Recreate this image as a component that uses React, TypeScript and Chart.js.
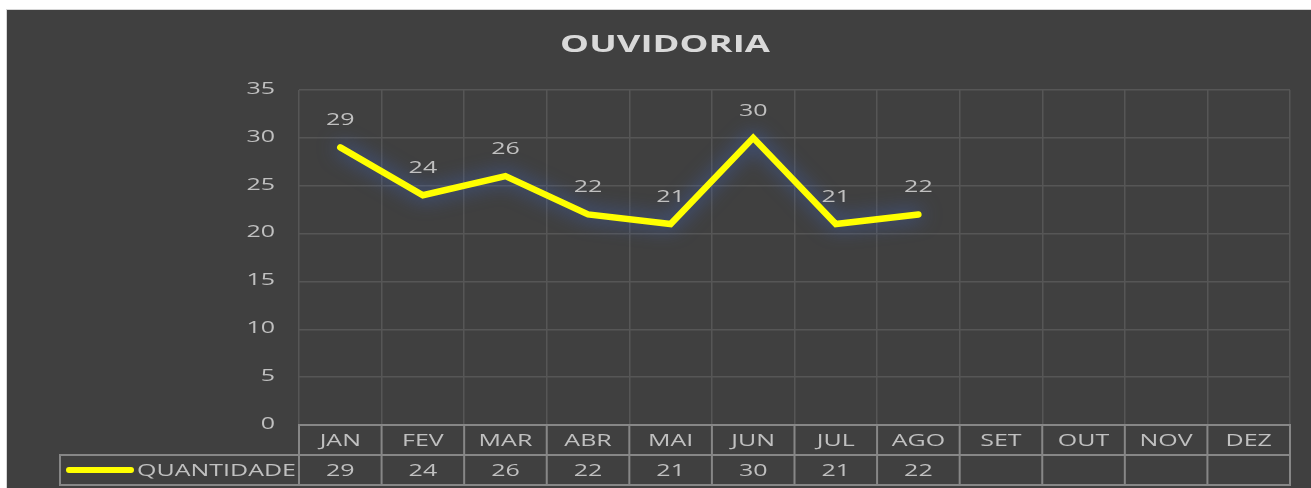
import React, { useEffect, useRef } from "react";
import { Chart, registerables } from "chart.js";

Chart.register(...registerables);

const TITLE = "OUVIDORIA";
const SERIES_NAME = "QUANTIDADE";
const MONTHS = ["JAN", "FEV", "MAR", "ABR", "MAI", "JUN", "JUL", "AGO", "SET", "OUT", "NOV", "DEZ"];
const QUANTIDADE: (number | null)[] = [29, 24, 26, 22, 21, 30, 21, 22, null, null, null, null];
const Y_TICKS = [0, 5, 10, 15, 20, 25, 30, 35];
const Y_MIN = 0;
const Y_MAX = 35;
const Y_STEP = 5;

const FONT = "'Open Sans', 'DejaVu Sans', sans-serif";
const TEXT_COLOR = "#c0c0c0";
const GRID_COLOR = "#565656";
const TABLE_BORDER = "#878787";
const LINE_COLOR = "#ffff00";
const BG = "#404040";
const SX = 1.47; // horizontal text stretch seen in the reference
const SX_TITLE = 1.52;

const W = 1304;
const H = 478;

function stretchedText(ctx: any, text: string, x: number, y: number, align: "left" | "center" | "right", sx = SX) {
  ctx.save();
  ctx.translate(x, y);
  ctx.scale(sx, 1);
  ctx.textAlign = align;
  ctx.textBaseline = "middle";
  ctx.fillText(text, 0, 0);
  ctx.restore();
}

const glowPlugin = {
  id: "glow",
  beforeDatasetDraw(chart: any) {
    const ctx = chart.ctx;
    ctx.save();
    ctx.shadowColor = "rgba(65,105,200,0.85)";
    ctx.shadowBlur = 20;
  },
  afterDatasetDraw(chart: any) {
    chart.ctx.restore();
  },
};

const decorPlugin = {
  id: "decor",
  afterDraw(chart: any) {
    const ctx = chart.ctx;
    const area = chart.chartArea;
    const yScale = chart.scales.y;
    const meta = chart.getDatasetMeta(0);
    ctx.save();
    // title
    ctx.fillStyle = "#d9d9d9";
    ctx.font = `bold 24px ${FONT}`;
    stretchedText(ctx, TITLE, 658, 35, "center", SX_TITLE);

    // y tick labels
    ctx.font = `17px ${FONT}`;
    ctx.fillStyle = TEXT_COLOR;
    Y_TICKS.forEach((t) => {
      stretchedText(ctx, String(t), 268, yScale.getPixelForValue(t) - 1, "right");
    });

    // data labels
    meta.data.forEach((pt: any, i: number) => {
      const v = QUANTIDADE[i];
      if (v == null) return;
      stretchedText(ctx, String(v), pt.x, pt.y - 27, "center");
    });

    // data table
    const n = MONTHS.length;
    const cw = (area.right - area.left) / n;
    const rowH = 30;
    const top = area.bottom;
    ctx.strokeStyle = TABLE_BORDER;
    ctx.lineWidth = 2;
    const legendLeft = 53;
    ctx.strokeRect(area.left, top, area.right - area.left, rowH);
    ctx.strokeRect(legendLeft, top + rowH, area.right - legendLeft, rowH);
    ctx.beginPath();
    for (let i = 0; i <= n; i++) {
      const x = area.left + i * cw;
      ctx.moveTo(x, top);
      ctx.lineTo(x, top + 2 * rowH);
    }
    ctx.stroke();

    ctx.fillStyle = TEXT_COLOR;
    for (let i = 0; i < n; i++) {
      const cx = area.left + (i + 0.5) * cw;
      stretchedText(ctx, MONTHS[i], cx, top + rowH / 2 + 1, "center");
      const v = QUANTIDADE[i];
      if (v != null) stretchedText(ctx, String(v), cx, top + rowH * 1.5 + 1, "center");
    }
    // legend cell
    ctx.strokeStyle = LINE_COLOR;
    ctx.lineWidth = 6;
    ctx.lineCap = "round";
    ctx.beginPath();
    ctx.moveTo(62, top + rowH * 1.5);
    ctx.lineTo(124, top + rowH * 1.5);
    ctx.stroke();
    stretchedText(ctx, SERIES_NAME, 130, top + rowH * 1.5 + 1, "left");
    ctx.restore();
  },
};

export default function App() {
  const ref = useRef<HTMLCanvasElement>(null);
  useEffect(() => {
    if (!ref.current) return;
    const chart = new Chart(ref.current, {
      type: "line",
      data: {
        labels: MONTHS,
        datasets: [
          {
            label: SERIES_NAME,
            data: QUANTIDADE,
            borderColor: LINE_COLOR,
            backgroundColor: LINE_COLOR,
            borderWidth: 6.5,
            borderCapStyle: "round",
            borderJoinStyle: "miter",
            pointRadius: 0,
            tension: 0,
            spanGaps: false,
          },
        ],
      },
      options: {
        responsive: false,
        animation: false,
        devicePixelRatio: 1,
        layout: { padding: { top: 80, bottom: 63, right: 21, left: 0 } },
        plugins: {
          legend: { display: false },
          title: { display: false },
          tooltip: { enabled: false },
        },
        scales: {
          x: {
            offset: true,
            grid: { offset: true, color: GRID_COLOR, lineWidth: 1.5, drawTicks: false },
            border: { display: false },
            ticks: { display: false },
            afterFit: (s: any) => {
              s.height = 0;
            },
          },
          y: {
            min: Y_MIN,
            max: Y_MAX,
            ticks: { stepSize: Y_STEP, display: false },
            grid: { color: GRID_COLOR, lineWidth: 1.5, drawTicks: false },
            border: { display: false },
            afterFit: (s: any) => {
              s.width = 292;
            },
          },
        },
      },
      plugins: [glowPlugin, decorPlugin],
    } as any);
    return () => chart.destroy();
  }, []);
  return (
    <div
      style={{
        position: "absolute",
        left: 6,
        top: 9,
        width: W,
        height: H,
        background: BG,
        borderTop: "1px solid #d6d6d6",
        borderLeft: "1px solid #d6d6d6",
      }}
    >
      <canvas ref={ref} width={W} height={H} style={{ display: "block" }} />
    </div>
  );
}
